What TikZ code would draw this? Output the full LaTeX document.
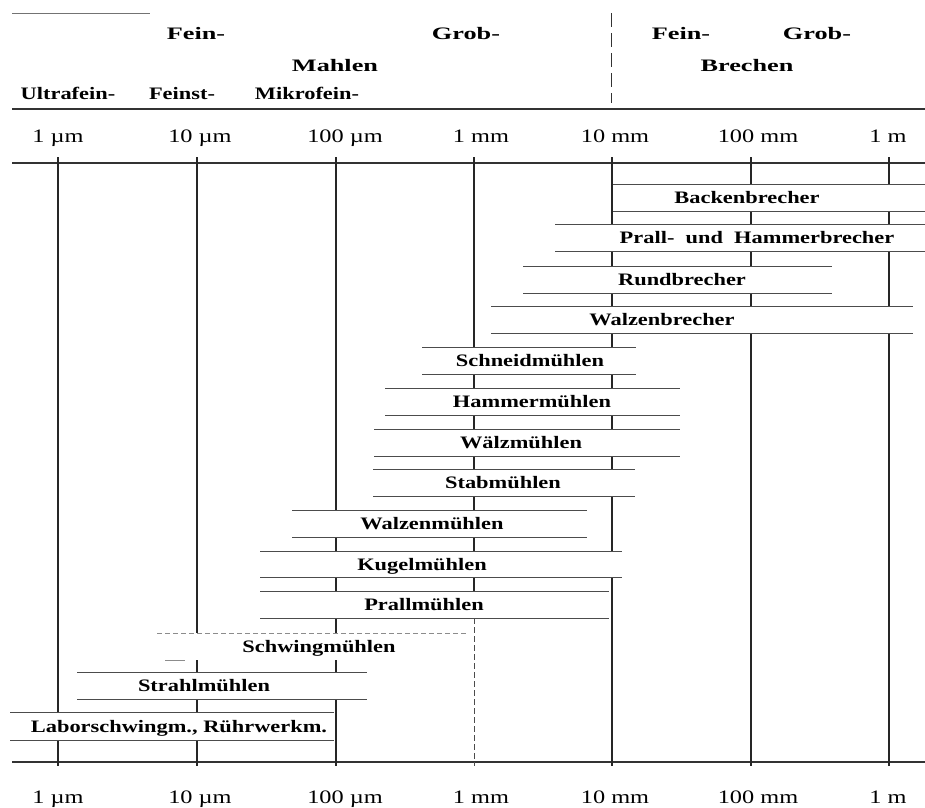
\documentclass[tikz,border=0pt]{standalone}
\usepackage{fontspec}
\setmainfont{Liberation Serif}[FakeStretch=1.28]
\newfontfamily\hdfont{Liberation Serif}[FakeStretch=1.5]
\newcommand\mkbar[7]{%
  \fill[white] (#2,#4) rectangle (#3,#5);
  \draw[barline] (#2,#4) -- (#3,#4);
  \draw[barline] (#2,#5) -- (#3,#5);
  \node[barlbl] (#1) at (#6,{(#4+#5)/2+6}) {#7};}
\begin{document}
\begin{tikzpicture}[x=1pt,y=-1pt,
  vline/.style={line width=1.1pt, black!85},
  axisline/.style={line width=1.8pt, black!80},
  barline/.style={line width=0.8pt, black!70},
  barlbl/.style={font=\fontsize{17.5}{20}\selectfont\bfseries, inner sep=0pt, anchor=base},
  scl/.style={font=\fontsize{19}{22}\selectfont, inner sep=0pt, anchor=base},
  hdA/.style={font=\hdfont\fontsize{17.5}{20}\selectfont\bfseries, inner sep=0pt, anchor=base},
  hdB/.style={font=\fontsize{17.5}{20}\selectfont\bfseries, inner sep=0pt, anchor=base}]
\useasboundingbox (0,0) rectangle (925,807);
\fill[white] (0,0) rectangle (925,807);

% stray line and dashed separator
\draw[black!55, line width=0.8pt] (12,13) -- (150,13);
\draw[black!80, line width=1pt, dash pattern=on 14pt off 6pt] (611,13) -- (611,103);

% header texts
\node[hdA] (fein1) at (196,39) {Fein-};
\node[hdA] (grob1) at (466,39) {Grob-};
\node[hdA] (mahlen) at (335,71) {Mahlen};
\node[hdB] (ultra) at (68,99) {Ultrafein-};
\node[hdB] (feinst) at (182,99) {Feinst-};
\node[hdB] (mikro) at (307,99) {Mikrofein-};
\node[hdA] (fein2) at (681,39) {Fein-};
\node[hdA] (grob2) at (817,39) {Grob-};
\node[hdA] (brechen) at (747,71) {Brechen};

% axis lines
\draw[axisline] (12,109) -- (925,109);
\draw[axisline] (12,163) -- (925,163);
\draw[axisline] (12,762) -- (925,762);

% scale labels top and bottom
\foreach \xx/\lab/\nm in {58/1 µm/a,200/10 µm/b,345/100 µm/c,481/1 mm/d,615/10 mm/e,758/100 mm/f,888/1 m/g}{
  \node[scl] (top\nm) at (\xx,142) {\lab};
  \node[scl] (bot\nm) at (\xx,803) {\lab};
}

% vertical lines
\foreach \xx in {58,197,336,612,751,889}{
  \draw[vline] (\xx,157) -- (\xx,766);
}
\draw[vline] (474,157) -- (474,618);
\draw[line width=1pt, black!70, dash pattern=on 6pt off 3pt] (474,618) -- (474,766);

% bars
\mkbar{backen}{613}{925}{184}{211}{747}{Backenbrecher}
\mkbar{prallb}{555}{925}{224}{251}{757}{Prall-\ \ und\ \ Hammerbrecher}
\mkbar{rund}{523}{832}{266}{293}{682}{Rundbrecher}
\mkbar{walzb}{491}{913}{306}{333}{662}{Walzenbrecher}
\mkbar{schneid}{422}{636}{347}{374}{530}{Schneidmühlen}
\mkbar{hammer}{385}{680}{388}{415}{532}{Hammermühlen}
\mkbar{waelz}{374}{680}{429}{456}{521}{Wälzmühlen}
\mkbar{stab}{373}{635}{469}{496}{503}{Stabmühlen}
\mkbar{walzm}{292}{587}{510}{537}{432}{Walzenmühlen}
\mkbar{kugel}{260}{622}{551}{577}{422}{Kugelmühlen}
\mkbar{prallm}{260}{609}{591}{618}{424}{Prallmühlen}
% Schwingmühlen (faint outline)
\fill[white] (157,633) rectangle (468,660);
\draw[black!45, line width=0.8pt, dash pattern=on 5pt off 3pt] (157,633) -- (468,633);
\draw[black!45, line width=0.8pt] (165,660) -- (185,660);
\node[barlbl] (schwing) at (319,652) {Schwingmühlen};
\mkbar{strahl}{77}{367}{672}{699}{204}{Strahlmühlen}
\mkbar{labor}{10}{334}{712}{740}{179}{Laborschwingm., Rührwerkm.}
\end{tikzpicture}
\end{document}
